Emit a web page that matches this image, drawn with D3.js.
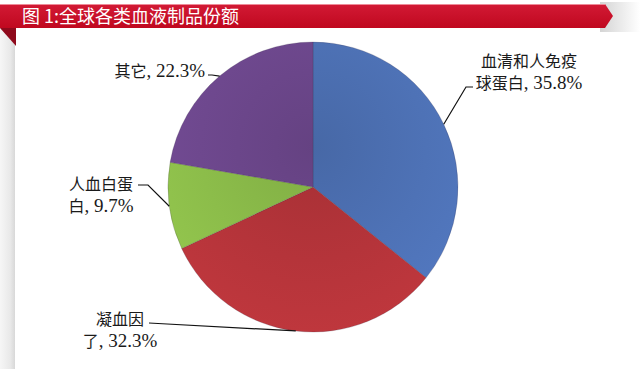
<!DOCTYPE html>
<html>
<head>
<meta charset="utf-8">
<script src="https://cdn.jsdelivr.net/npm/d3@7"></script>
<style>
  html, body { margin: 0; padding: 0; background: #fff; }
  svg { display: block; }
</style>
</head>
<body>
<svg id="chart" width="640" height="369"></svg>
<script>
// ---- data ----
const title = "图 1:全球各类血液制品份额";
const categories = ["血清和人免疫球蛋白", "凝血因了", "人血白蛋白", "其它"];
const values = [35.8, 32.3, 9.7, 22.3];
const labelLines = [
  ["血清和人免疫", "球蛋白, 35.8%"],
  ["凝血因", "了, 32.3%"],
  ["人血白蛋", "白, 9.7%"],
  ["其它, 22.3%"]
];
const colors = ["#4e72b6", "#b5343a", "#8cbd4a", "#6e488e"];

// ---- layout ----
const W = 640, H = 369;
const cx = 313, cy = 187, R = 145;
const svg = d3.select("#chart");
const defs = svg.append("defs");

// background pieces
const gShade = defs.append("linearGradient").attr("id", "leftShade").attr("x1", 0).attr("x2", 1);
gShade.append("stop").attr("offset", 0).attr("stop-color", "#f6f6f6");
gShade.append("stop").attr("offset", 0.7).attr("stop-color", "#e8e8e8");
gShade.append("stop").attr("offset", 1).attr("stop-color", "#d8d8d8");
svg.append("rect").attr("x", 0).attr("y", 28).attr("width", 15).attr("height", H - 28).attr("fill", "url(#leftShade)");

const gRight = defs.append("linearGradient").attr("id", "rightShade").attr("x1", 0).attr("x2", 1);
gRight.append("stop").attr("offset", 0).attr("stop-color", "#d4d4d4");
gRight.append("stop").attr("offset", 1).attr("stop-color", "#ffffff");
svg.append("rect").attr("x", 600).attr("y", 2).attr("width", 40).attr("height", 30).attr("fill", "url(#rightShade)");

// banner
const gBan = defs.append("linearGradient").attr("id", "banner").attr("x1", 0).attr("x2", 0).attr("y1", 0).attr("y2", 1);
gBan.append("stop").attr("offset", 0).attr("stop-color", "#d21a35");
gBan.append("stop").attr("offset", 1).attr("stop-color", "#c0081f");
svg.append("path")
  .attr("d", "M0,4 L605,4 L613,16 L605,28 L0,28 Z")
  .attr("fill", "url(#banner)");
svg.append("line").attr("x1", 0).attr("x2", 605).attr("y1", 4.5).attr("y2", 4.5)
  .attr("stroke", "#ee8a98").attr("stroke-width", 1);
svg.append("path").attr("d", "M0,28 L16,28 L16,46 Z").attr("fill", "#8f0a1c");

svg.append("text")
  .attr("x", 22).attr("y", 23)
  .attr("font-family", "'Noto Sans CJK SC', sans-serif")
  .attr("font-size", 18)
  .attr("fill", "#ffffff")
  .text(title);

// ---- pie ----
const pie = d3.pie().sort(null).value(d => d)(values);
const arc = d3.arc().innerRadius(0).outerRadius(R);

colors.forEach((c, i) => {
  const g = defs.append("radialGradient").attr("id", "sl" + i)
    .attr("gradientUnits", "userSpaceOnUse")
    .attr("cx", 0).attr("cy", -40).attr("r", R * 1.3);
  g.append("stop").attr("offset", 0).attr("stop-color", d3.color(c).darker(0.25));
  g.append("stop").attr("offset", 0.6).attr("stop-color", c);
  g.append("stop").attr("offset", 1).attr("stop-color", d3.color(c).brighter(0.15));
});

const gp = svg.append("g").attr("transform", `translate(${cx},${cy})`);
gp.selectAll("path").data(pie).join("path")
  .attr("d", arc)
  .attr("fill", (d, i) => `url(#sl${i})`)
  .attr("stroke", "rgba(60,50,70,0.35)").attr("stroke-width", 0.6);

// ---- labels & leaders ----
const labelPos = [
  { x: 529, y: 67, anchor: "middle", lead: [[473, 87], [466, 87]] },
  { x: 120, y: 325, anchor: "middle", lead: [[149, 323], [158, 323.5]] },
  { x: 101, y: 190, anchor: "middle", lead: [[138, 185], [148, 185]] },
  { x: 205, y: 77, anchor: "end", lead: [[208, 75], [212, 75]] }
];
const lineH = 22;

// split a line into CJK / Latin runs
function runs(s) {
  const out = [];
  for (const ch of s) {
    const cjk = /[\u3000-\u9fff\uff00-\uffef]/.test(ch);
    if (out.length && out[out.length - 1].cjk === cjk) out[out.length - 1].t += ch;
    else out.push({ cjk, t: ch });
  }
  return out;
}

pie.forEach((d, i) => {
  const a = (d.startAngle + d.endAngle) / 2;
  const px = cx + R * Math.sin(a), py = cy - R * Math.cos(a);
  const p = labelPos[i];
  const pts = p.lead.concat([[px, py]]);
  svg.append("path")
    .attr("d", d3.line()(pts))
    .attr("fill", "none").attr("stroke", "#111").attr("stroke-width", 1.2);
  const t = svg.append("text")
    .attr("fill", "#1a1a1a")
    .attr("text-anchor", p.anchor);
  labelLines[i].forEach((ln, k) => {
    runs(ln).forEach((r, j) => {
      const ts = t.append("tspan")
        .attr("font-family", r.cjk ? "'Noto Sans CJK SC', sans-serif" : "'Liberation Serif', serif")
        .attr("font-size", r.cjk ? 16 : 19)
        .text(r.t);
      if (j === 0) ts.attr("x", p.x).attr("y", p.y + k * lineH);
    });
  });
});
</script>
</body>
</html>
